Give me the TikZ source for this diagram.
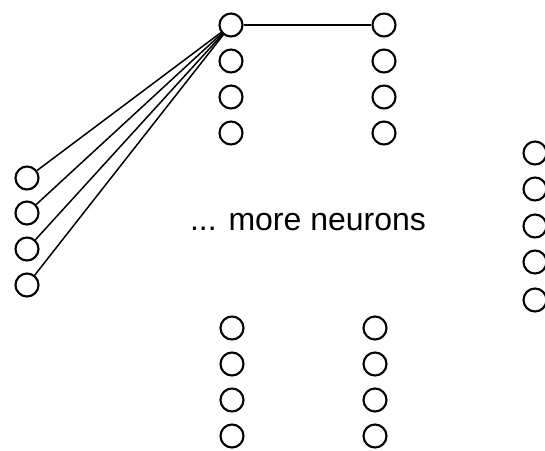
\documentclass[tikz,border=0pt]{standalone}
\usepackage{fontspec}
\setmainfont{Liberation Sans}
\begin{document}
\begin{tikzpicture}[x=1pt,y=-1pt,
  neuron/.style={circle,draw=black,line width=2.1pt,minimum size=23pt,inner sep=0pt},
  link/.style={draw=black,line width=1.5pt}]
\useasboundingbox (0,0) rectangle (545,450);
% top-left column
\node[neuron] (a1) at (231,25) {};
\node[neuron] (a2) at (231,61) {};
\node[neuron] (a3) at (231,97) {};
\node[neuron] (a4) at (231,133) {};
% top-right column
\node[neuron] (b1) at (384,25) {};
\node[neuron] (b2) at (384,61) {};
\node[neuron] (b3) at (384,97) {};
\node[neuron] (b4) at (384,133) {};
% left column
\node[neuron] (i1) at (27,178) {};
\node[neuron] (i2) at (27,213) {};
\node[neuron] (i3) at (27,249) {};
\node[neuron] (i4) at (27,285) {};
% bottom columns
\node[neuron] (c1) at (232,328) {};
\node[neuron] (c2) at (232,364) {};
\node[neuron] (c3) at (232,400) {};
\node[neuron] (c4) at (232,436) {};
\node[neuron] (d1) at (375,328) {};
\node[neuron] (d2) at (375,364) {};
\node[neuron] (d3) at (375,400) {};
\node[neuron] (d4) at (375,436) {};
% right column
\node[neuron] (r1) at (535,153) {};
\node[neuron] (r2) at (535,189) {};
\node[neuron] (r3) at (535,226) {};
\node[neuron] (r4) at (535,262) {};
\node[neuron] (r5) at (535,300) {};
% label
\node[anchor=base,font=\fontsize{32}{36}\selectfont,inner sep=0pt] (lbl) at (308,230) {... more neurons};
% connections
\foreach \i in {1,2,3,4} \draw[link] (i\i) -- (a1);
\draw[link] (a1) -- (b1);
\end{tikzpicture}
\end{document}
